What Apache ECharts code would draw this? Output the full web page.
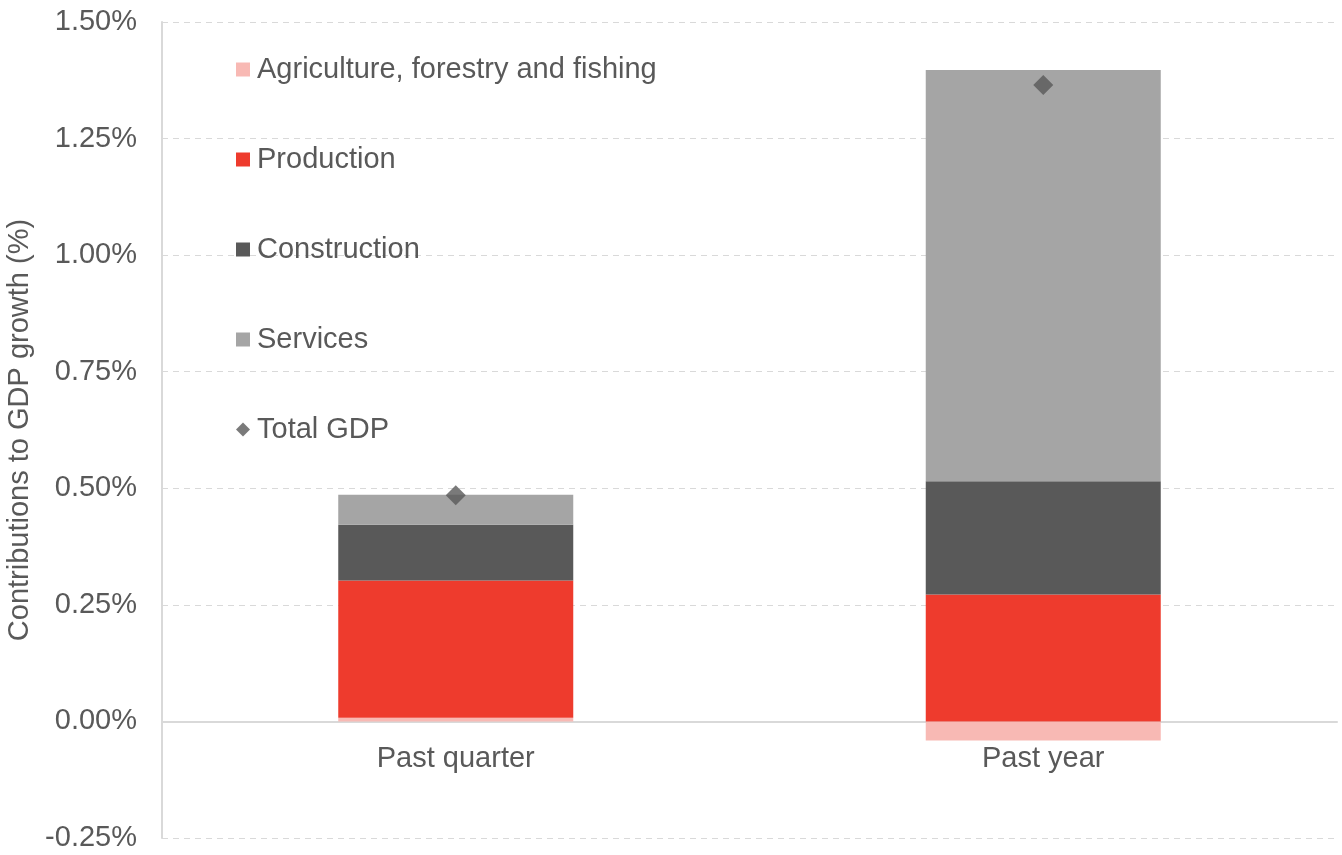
<!DOCTYPE html>
<html>
<head>
<meta charset="utf-8">
<title>Contributions to GDP growth</title>
<script src="https://cdn.jsdelivr.net/npm/echarts@6/dist/echarts.min.js"></script>
<style>
  html, body { margin: 0; padding: 0; background: #fff; }
  #chart { width: 1342px; height: 855px; }
</style>
</head>
<body>
<div id="chart"></div>
<script>
// categories and values (percentage points)
const categories = ['Past quarter', 'Past year']
const agriculture = [0.008, -0.041]
const production = [0.294, 0.272]
const construction = [0.12, 0.243]
const services = [0.064, 0.882]
const totalGdp = [0.485, 1.365]

const yTicks = { min: -0.25, max: 1.5, interval: 0.25 }

const font = 'Liberation Sans, Arial, sans-serif'
const textColor = '#595959'

// plot area
const gridTop = 22
const gridBottom = 17
const plotHeight = 855 - gridTop - gridBottom
// distance of the zero line above the bottom of the plot
const zeroOffset = plotHeight * (0 - yTicks.min) / (yTicks.max - yTicks.min)

const myChart = echarts.init(document.getElementById('chart'))

function barSeries (name, data, color) {
  return {
    name: name,
    type: 'bar',
    stack: 'gdp',
    barWidth: '40%',
    itemStyle: { color: color },
    data: data
  }
}

const option = {
  animation: false,
  textStyle: { fontFamily: font },
  grid: { left: 162, right: 5, top: gridTop, bottom: gridBottom, containLabel: false, outerBoundsMode: 'none' },
  legend: {
    orient: 'vertical',
    left: 231,
    top: 50,
    itemWidth: 14,
    itemHeight: 14,
    itemGap: 61,
    textStyle: { fontSize: 29, color: textColor, fontFamily: font, lineHeight: 29, padding: [0, 0, 0, 2] },
    data: [
      { name: 'Agriculture, forestry and fishing', icon: 'rect' },
      { name: 'Production', icon: 'rect' },
      { name: 'Construction', icon: 'rect' },
      { name: 'Services', icon: 'rect' },
      { name: 'Total GDP', icon: 'diamond' }
    ]
  },
  xAxis: {
    type: 'category',
    data: categories,
    offset: -zeroOffset,
    axisLine: { onZero: false, lineStyle: { color: '#d9d9d9', width: 2 } },
    axisTick: { show: false },
    axisLabel: { fontSize: 29, color: textColor, margin: 23 }
  },
  yAxis: {
    type: 'value',
    min: yTicks.min,
    max: yTicks.max,
    interval: yTicks.interval,
    name: 'Contributions to GDP growth (%)',
    nameLocation: 'middle',
    nameGap: 122,
    nameRotate: 90,
    nameTextStyle: { fontSize: 29, color: textColor },
    axisLine: { show: true, lineStyle: { color: '#d9d9d9', width: 2 } },
    axisTick: { show: false },
    axisLabel: {
      fontSize: 29,
      color: textColor,
      margin: 25,
      formatter: v => v.toFixed(2) + '%'
    },
    splitLine: { lineStyle: { color: '#d9d9d9', type: [6, 5] } }
  },
  series: [
    barSeries('Agriculture, forestry and fishing', agriculture, '#f8b9b4'),
    barSeries('Production', production, '#ee3b2d'),
    barSeries('Construction', construction, '#595959'),
    barSeries('Services', services, '#a5a5a5'),
    {
      name: 'Total GDP',
      type: 'scatter',
      symbol: 'diamond',
      symbolSize: 20,
      itemStyle: { color: '#595959' },
      z: 5,
      data: totalGdp
    }
  ]
}

myChart.setOption(option)
</script>
</body>
</html>
